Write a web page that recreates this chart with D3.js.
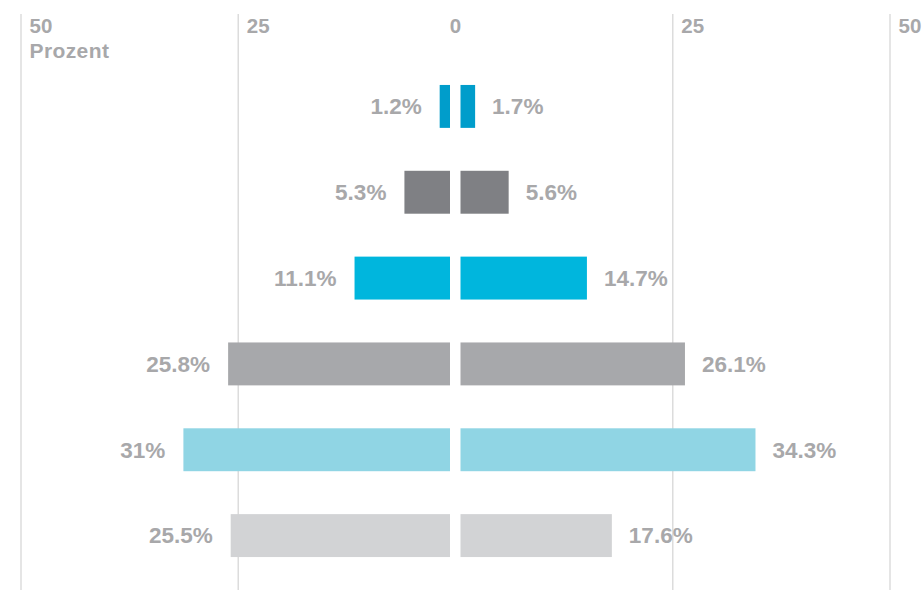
<!DOCTYPE html>
<html>
<head>
<meta charset="utf-8">
<script src="https://cdn.jsdelivr.net/npm/d3@7"></script>
<style>
  body { margin: 0; background: #fff; }
  text { font-family: "Liberation Sans", Arial, Helvetica, sans-serif; font-weight: bold; fill: #a8a8aa; }
</style>
</head>
<body>
<svg id="drawing_region"></svg>
<script>
// values per row, top to bottom
var rows = ['r1', 'r2', 'r3', 'r4', 'r5', 'r6'];
var left_values = [1.2, 5.3, 11.1, 25.8, 31, 25.5];
var right_values = [1.7, 5.6, 14.7, 26.1, 34.3, 17.6];
var left_labels = ['1.2%', '5.3%', '11.1%', '25.8%', '31%', '25.5%'];
var right_labels = ['1.7%', '5.6%', '14.7%', '26.1%', '34.3%', '17.6%'];
var colors = ['#009dcb', '#7f8084', '#00b6dd', '#a7a8ab', '#90d5e4', '#d2d3d5'];
var tick_values = [-50, -25, 0, 25, 50];
var unit_label = 'Prozent';

var width = 923;
var height = 590;

var svg = d3.select('#drawing_region')
    .attr('width', width)
    .attr('height', height);

// grid scale (symmetric around the centre)
const xgrid = d3.scaleLinear().domain([-50, 50]).range([21, 890]);
// bar scales, with a gap in the middle
const xleft = d3.scaleLinear().domain([0, 50]).range([450, 20]);
const xright = d3.scaleLinear().domain([0, 50]).range([460.5, 890.5]);

const yscale = d3.scaleBand()
      .domain(rows)
      .range([63.5, 578.5])
      .paddingInner(0.5)
      .paddingOuter(0.25);

// grid lines + tick labels
const grid = svg.append('g');
grid.selectAll('line')
    .data(tick_values.filter(d => d !== 0))
    .join('line')
    .attr('x1', d => xgrid(d))
    .attr('x2', d => xgrid(d))
    .attr('y1', 14)
    .attr('y2', height)
    .attr('stroke', '#dcdcdc')
    .attr('stroke-width', 1.5);

grid.selectAll('text')
    .data(tick_values)
    .join('text')
    .attr('x', d => d === 0 ? xgrid(d) : xgrid(d) + 8.5)
    .attr('y', 33)
    .attr('text-anchor', d => d === 0 ? 'middle' : 'start')
    .style('font-size', '20.5px')
    .text(d => Math.abs(d));

grid.append('text')
    .attr('x', xgrid(-50) + 8.5)
    .attr('y', 58)
    .style('font-size', '21px')
    .style('letter-spacing', '0.4px')
    .text(unit_label);

// left bars
svg.append('g').selectAll('rect')
    .data(left_values)
    .join('rect')
    .attr('x', d => xleft(d))
    .attr('y', (d, i) => yscale(rows[i]))
    .attr('width', d => xleft(0) - xleft(d))
    .attr('height', yscale.bandwidth())
    .attr('fill', (d, i) => colors[i]);

// right bars
svg.append('g').selectAll('rect')
    .data(right_values)
    .join('rect')
    .attr('x', xright(0))
    .attr('y', (d, i) => yscale(rows[i]))
    .attr('width', d => xright(d) - xright(0))
    .attr('height', yscale.bandwidth())
    .attr('fill', (d, i) => colors[i]);

// value labels
svg.append('g').selectAll('text')
    .data(left_values)
    .join('text')
    .attr('x', d => xleft(d) - 18)
    .attr('y', (d, i) => yscale(rows[i]) + yscale.bandwidth() / 2)
    .attr('dy', '0.35em')
    .attr('text-anchor', 'end')
    .style('font-size', '22.5px')
    .text((d, i) => left_labels[i]);

svg.append('g').selectAll('text')
    .data(right_values)
    .join('text')
    .attr('x', d => xright(d) + 17)
    .attr('y', (d, i) => yscale(rows[i]) + yscale.bandwidth() / 2)
    .attr('dy', '0.35em')
    .attr('text-anchor', 'start')
    .style('font-size', '22.5px')
    .text((d, i) => right_labels[i]);
</script>
</body>
</html>
